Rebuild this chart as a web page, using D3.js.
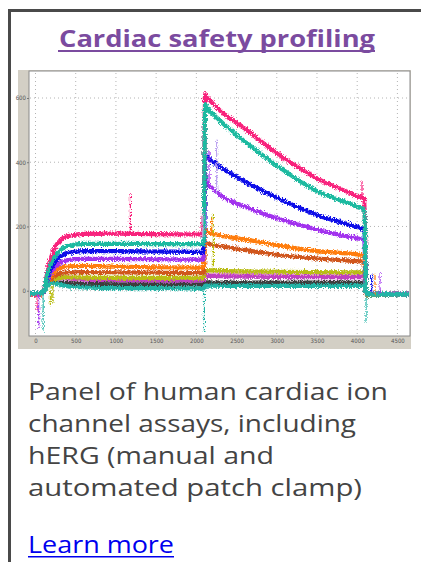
<!DOCTYPE html>
<html>
<head>
<meta charset="utf-8">
<script src="https://cdn.jsdelivr.net/npm/d3@7"></script>
<style>
  body { margin: 0; background: #fff; }
  svg { display: block; }
</style>
</head>
<body>
<div id="card"></div>
<script>
// sample times (ms)
var times = [-80, 0, 60, 110, 150, 200, 250, 300, 400, 600, 1000, 1500, 2000, 2090, 2110, 2130, 2300, 2600, 3000, 3500, 4000, 4090, 4110, 4150, 4300, 4650];

// current values of each sweep at those times
var tealLow   = [-8, -8, -8, 0, 14, 22, 22, 19, 14, 10, 8, 8, 7, 7, 16, 16, 15, 15, 15, 15, 15, 15, -8, -10, -10, -10];
var darkLine  = [-10, -10, -10, 0, 18, 27, 28, 26, 24, 21, 20, 20, 20, 20, 26, 26, 25, 25, 25, 25, 25, 25, -10, -10, -10, -10];
var violet    = [-10, -10, -10, 2, 22, 36, 42, 42, 39, 35, 33, 32, 32, 32, 46, 46, 45, 44, 43, 42, 42, 42, -10, -10, -10, -10];
var lightPink = [-10, -10, -10, 2, 20, 32, 37, 38, 37, 35, 34, 34, 34, 34, 50, 50, 49, 48, 47, 46, 45, 45, -8, -10, -10, -10];
var olive     = [-10, -10, -10, 1, 18, 30, 37, 40, 42, 41, 40, 40, 40, 40, 65, 64, 62, 60, 59, 58, 57, 57, -10, -12, -12, -12];
var brown     = [-12, -12, -12, 2, 22, 38, 48, 53, 57, 58, 57, 56, 55, 55, 150, 147, 139, 127, 112, 100, 92, 90, -12, -12, -12, -12];
var orange    = [-10, -10, -10, 3, 28, 48, 62, 70, 76, 77, 75, 73, 72, 72, 190, 185, 172, 160, 142, 123, 113, 110, -12, -12, -12, -12];
var purple    = [-10, -10, -10, 3, 35, 60, 76, 86, 95, 99, 99, 98, 97, 97, 345, 338, 298, 262, 226, 190, 163, 158, -10, -10, -11, -12];
var blue      = [-10, -10, -10, 4, 42, 72, 92, 105, 117, 123, 123, 122, 121, 121, 425, 418, 385, 340, 290, 236, 198, 190, -8, -10, -10, -10];
var teal      = [-8, -10, -8, 5, 52, 88, 110, 124, 139, 146, 146, 145, 145, 145, 580, 572, 528, 465, 390, 310, 262, 252, -10, -12, -12, -12];
var pink      = [-10, -12, -10, 6, 65, 108, 138, 155, 170, 177, 178, 176, 175, 175, 612, 605, 560, 505, 428, 350, 295, 285, -8, -10, -10, -10];

var sweeps = [
  {name: "dark", values: darkLine, color: "#3c3c3c"},
  {name: "lightPink", values: lightPink, color: "#e79ad8"},
  {name: "violet", values: violet, color: "#c040c0"},
  {name: "olive", values: olive, color: "#b9bc12"},
  {name: "brown", values: brown, color: "#d0561e"},
  {name: "orange", values: orange, color: "#ff7d0c"},
  {name: "purple", values: purple, color: "#a232ee"},
  {name: "blue", values: blue, color: "#0c0ce8"},
  {name: "pink", values: pink, color: "#f8207c"},
  {name: "teal", values: teal, color: "#1fbaa0"},
  {name: "tealLow", values: tealLow, color: "#22b4a6"}
];

// artefact spikes: time, from, to
var spikes = [
  {t: 20, y0: -10, y1: -65, c: "#f8207c"},
  {t: 40, y0: -10, y1: -112, c: "#a232ee"},
  {t: 95, y0: 0, y1: -128, c: "#22b4a6"},
  {t: 185, y0: 10, y1: -45, c: "#b9bc12"},
  {t: 215, y0: 20, y1: -40, c: "#b9bc12"},
  {t: 1180, y0: 178, y1: 300, c: "#f8207c"},
  {t: 2060, y0: 170, y1: 232, c: "#f8207c"},
  {t: 2080, y0: 165, y1: 240, c: "#e79ad8"},
  {t: 2100, y0: 10, y1: -130, c: "#22b4a6"},
  {t: 2158, y0: 330, y1: 438, c: "#a232ee"},
  {t: 2190, y0: 180, y1: 230, c: "#ff7d0c"},
  {t: 2212, y0: 60, y1: 241, c: "#b9bc12"},
  {t: 2253, y0: 300, y1: 470, c: "#b79cf0"},
  {t: 4060, y0: 288, y1: 340, c: "#f8207c"},
  {t: 4110, y0: -10, y1: -100, c: "#22b4a6"},
  {t: 4180, y0: -10, y1: 55, c: "#0c0ce8"},
  {t: 4222, y0: -10, y1: 50, c: "#ff7d0c"},
  {t: 4285, y0: -10, y1: 55, c: "#a232ee"}
];

var xTicks = [0, 500, 1000, 1500, 2000, 2500, 3000, 3500, 4000, 4500];
var yTicks = [0, 200, 400, 600];

var title = "Cardiac safety profiling";
var bodyLines = ["Panel of human cardiac ion", "channel assays, including", "hERG (manual and", "automated patch clamp)"];
var linkText = "Learn more";

// rendered width of each description line (layout)
var lineLengths = [360, 328, 246, 334];

var width = 421, height = 562;
var svg = d3.select("#card").append("svg")
    .attr("width", width)
    .attr("height", height);

// card border
svg.append("path")
    .attr("d", "M9.5,562 V10.5 H421")
    .attr("fill", "none")
    .attr("stroke", "#4a4a4a")
    .attr("stroke-width", 3);

// title
var font = "'Open Sans', 'DejaVu Sans', sans-serif";
svg.append("text")
    .attr("x", 217).attr("y", 47)
    .attr("text-anchor", "middle")
    .attr("font-family", font)
    .attr("font-weight", 700)
    .attr("font-size", 24)
    .attr("fill", "#7b4b9f")
    .attr("textLength", 316)
    .attr("lengthAdjust", "spacingAndGlyphs")
    .text(title);
svg.append("rect")
    .attr("x", 58).attr("y", 50).attr("width", 317).attr("height", 2)
    .attr("fill", "#7b4b9f");

// chart frame
svg.append("rect")
    .attr("x", 18).attr("y", 70).attr("width", 393).attr("height", 279)
    .attr("fill", "#d3cfc5");

var plot = {left: 29, top: 71, right: 410, bottom: 336};

var x = d3.scaleLinear()
    .domain([0, 4500])
    .range([35.5, 397.4]);

var y = d3.scaleLinear()
    .domain([0, 600])
    .range([290.7, 98]);

svg.append("rect")
    .attr("x", plot.left).attr("y", plot.top)
    .attr("width", plot.right - plot.left).attr("height", plot.bottom - plot.top)
    .attr("fill", "#fff")
    .attr("stroke", "#8a8a8a")
    .attr("stroke-width", 1);

// dotted grid
var grid = svg.append("g")
    .attr("stroke", "#b4b4b4")
    .attr("stroke-width", 1)
    .attr("stroke-dasharray", "1,3");

grid.selectAll("line.v")
    .data(xTicks)
    .enter()
    .append("line")
    .attr("x1", d => x(d)).attr("x2", d => x(d))
    .attr("y1", plot.top + 2).attr("y2", plot.bottom - 1);

grid.selectAll("line.h")
    .data(yTicks)
    .enter()
    .append("line")
    .attr("x1", plot.left + 1).attr("x2", plot.right - 1)
    .attr("y1", d => y(d)).attr("y2", d => y(d));

// axes (labels only, like the acquisition software)
var bottomAxis = d3.axisBottom(x).tickValues(xTicks).tickFormat(d3.format("d")).tickSize(0).tickPadding(3);
var leftAxis = d3.axisLeft(y).tickValues(yTicks).tickFormat(d3.format("d")).tickSize(2).tickPadding(1);

var gx = svg.append("g")
    .attr("transform", "translate(0," + plot.bottom + ")")
    .call(bottomAxis);
var gy = svg.append("g")
    .attr("transform", "translate(" + plot.left + ",0)")
    .call(leftAxis);

[gx, gy].forEach(function(g) {
  g.select(".domain").remove();
  g.selectAll("line").attr("stroke", "#777");
  g.selectAll("text")
      .attr("font-family", "'Liberation Sans Narrow', 'DejaVu Sans Condensed', sans-serif")
      .attr("font-size", 6)
      .attr("fill", "#555");
});

// noise look of the recordings
var defs = svg.append("defs");
var filter = defs.append("filter").attr("id", "noise")
    .attr("x", "-2%").attr("y", "-10%").attr("width", "104%").attr("height", "120%");
filter.append("feTurbulence")
    .attr("type", "fractalNoise")
    .attr("baseFrequency", "1.3 0.7")
    .attr("numOctaves", 1)
    .attr("seed", 3)
    .attr("result", "turb");
filter.append("feDisplacementMap")
    .attr("in", "SourceGraphic")
    .attr("in2", "turb")
    .attr("scale", 6)
    .attr("xChannelSelector", "R")
    .attr("yChannelSelector", "G");

defs.append("clipPath").attr("id", "plotClip")
  .append("rect")
    .attr("x", plot.left + 1).attr("y", plot.top + 1)
    .attr("width", plot.right - plot.left - 2).attr("height", plot.bottom - plot.top - 2);

var drawLine = d3.line()
    .x((d, i) => x(times[i]))
    .y(d => y(d))
    .curve(d3.curveMonotoneX);

var traces = svg.append("g")
    .attr("clip-path", "url(#plotClip)")
  .append("g")
    .attr("filter", "url(#noise)");

traces.selectAll("path.sweep")
    .data(sweeps)
    .enter()
    .append("path")
    .attr("class", "sweep")
    .attr("d", d => drawLine(d.values))
    .attr("fill", "none")
    .attr("stroke", d => d.color)
    .attr("stroke-width", 4.2)
    .attr("stroke-linejoin", "round");

traces.selectAll("line.spike")
    .data(spikes)
    .enter()
    .append("line")
    .attr("class", "spike")
    .attr("x1", d => x(d.t)).attr("x2", d => x(d.t))
    .attr("y1", d => y(d.y0)).attr("y2", d => y(d.y1))
    .attr("stroke", d => d.c)
    .attr("stroke-width", 1.2);

// description
var text = svg.append("g")
    .attr("font-family", font)
    .attr("font-size", 24)
    .attr("fill", "#444");

text.selectAll("text")
    .data(bodyLines)
    .enter()
    .append("text")
    .attr("x", 28)
    .attr("y", (d, i) => 400 + i * 32)
    .attr("textLength", (d, i) => lineLengths[i])
    .attr("lengthAdjust", "spacingAndGlyphs")
    .text(d => d);

svg.append("text")
    .attr("x", 28).attr("y", 553)
    .attr("font-family", font)
    .attr("font-size", 24)
    .attr("fill", "#0000ee")
    .attr("textLength", 146)
    .attr("lengthAdjust", "spacingAndGlyphs")
    .text(linkText);
svg.append("rect")
    .attr("x", 28).attr("y", 556).attr("width", 146).attr("height", 1.5)
    .attr("fill", "#0000ee");
</script>
</body>
</html>
